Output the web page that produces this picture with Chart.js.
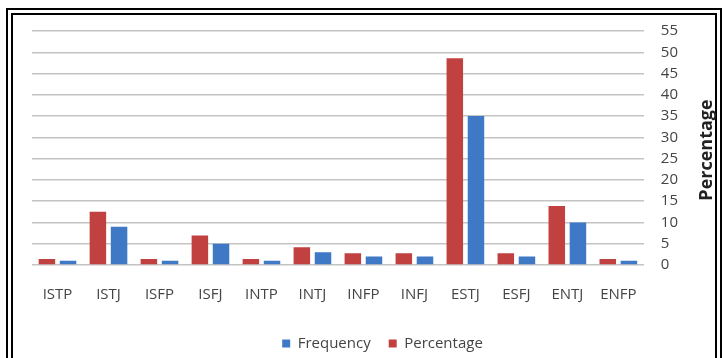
<!DOCTYPE html>
<html>
<head>
<meta charset="utf-8">
<title>MBTI types</title>
<script src="https://cdn.jsdelivr.net/npm/chart.js@4.4.0/dist/chart.umd.min.js"></script>
<style>
    html, body { margin: 0; padding: 0; background: #fff; }
    #wrap { position: absolute; left: 0; top: 0; width: 724px; height: 358px; overflow: hidden; }
    #frame { position: absolute; left: 6px; top: 8px; width: 716px; height: 362px; border: 7px double #000; box-sizing: border-box; }
    #chart { position: absolute; left: 0; top: 0; }
</style>
</head>
<body>
<div id="wrap">
    <div id="frame"></div>
    <canvas id="chart" width="724" height="358"></canvas>
</div>
<script>
// data
const types = ['ISTP', 'ISTJ', 'ISFP', 'ISFJ', 'INTP', 'INTJ', 'INFP', 'INFJ', 'ESTJ', 'ESFJ', 'ENTJ', 'ENFP'];
const frequency = [1, 9, 1, 5, 1, 3, 2, 2, 35, 2, 10, 1];
const percentage = [1.39, 12.5, 1.39, 6.94, 1.39, 4.17, 2.78, 2.78, 48.61, 2.78, 13.89, 1.39];
const axisMin = 0;
const axisMax = 55;
const axisStep = 5;
const axisTitle = 'Percentage';

const FONT = "'Open Sans', 'DejaVu Sans', sans-serif";
const TEXT = '#444';

// right-hand title reads bottom to top, chart.js would turn it the other way
const rightTitle = {
    id: 'rightTitle',
    afterDraw(chart) {
        const { ctx, chartArea } = chart;
        ctx.save();
        ctx.translate(707, (chartArea.top + chartArea.bottom) / 2 + 2);
        ctx.rotate(-Math.PI / 2);
        ctx.font = "bold 18px " + FONT;
        ctx.fillStyle = '#222';
        ctx.textAlign = 'center';
        ctx.textBaseline = 'middle';
        ctx.fillText(axisTitle, 0, 0);
        ctx.restore();
    }
};

// legend sits a little right of the middle in the original
const legendShift = {
    id: 'legendShift',
    afterLayout(chart) {
        chart.legend.left += 19;
        chart.legend.right += 19;
    }
};

new Chart(document.getElementById('chart').getContext('2d'), {
    type: 'bar',
    data: {
        labels: types,
        datasets: [{
            label: 'Percentage',
            data: percentage,
            backgroundColor: '#c0413f',
            categoryPercentage: 0.83,
            barPercentage: 0.78
        }, {
            label: 'Frequency',
            data: frequency,
            backgroundColor: '#3f78c4',
            categoryPercentage: 0.83,
            barPercentage: 0.78
        }]
    },
    options: {
        responsive: false,
        animation: false,
        layout: {
            padding: { left: 32, right: 29, top: 31, bottom: -3 }
        },
        scales: {
            x: {
                grid: { display: false },
                border: { display: false },
                ticks: {
                    color: TEXT,
                    padding: 13,
                    font: { family: FONT, size: 15 }
                },
                afterFit: scale => { scale.height = 53; }
            },
            y: {
                position: 'right',
                min: axisMin,
                max: axisMax,
                grid: { color: '#c4c4c4', lineWidth: 1.5, drawTicks: false },
                border: { display: false },
                ticks: {
                    stepSize: axisStep,
                    color: TEXT,
                    padding: 17,
                    font: { family: FONT, size: 15 }
                }
            }
        },
        plugins: {
            legend: {
                position: 'bottom',
                labels: {
                    boxWidth: 8,
                    boxHeight: 8,
                    padding: 18,
                    color: TEXT,
                    font: { family: FONT, size: 15 },
                    sort: (a, b) => b.datasetIndex - a.datasetIndex
                }
            },
            tooltip: { enabled: false }
        }
    },
    plugins: [rightTitle, legendShift]
});
</script>
</body>
</html>
